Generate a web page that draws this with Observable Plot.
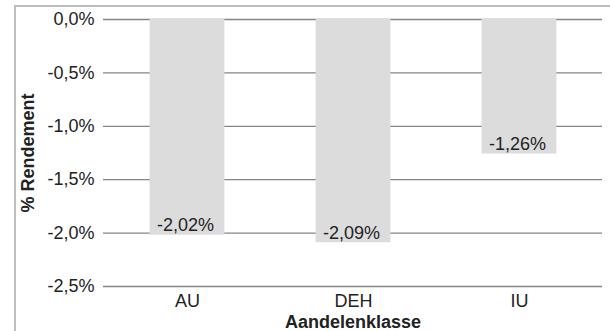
<!DOCTYPE html>
<html>
<head>
<meta charset="utf-8">
<script src="https://cdn.jsdelivr.net/npm/d3@7"></script>
<script src="https://cdn.jsdelivr.net/npm/@observablehq/plot@0.6"></script>
<style>
  html, body { margin: 0; padding: 0; background: #fff; }
  #wrap { position: relative; width: 610px; height: 331px; overflow: hidden; }
  #frame { position: absolute; left: 14px; top: 5px; width: 600px; height: 340px;
           border-left: 2px solid #bdbdbd; border-top: 2px solid #bdbdbd; box-sizing: border-box; }
  #chart { position: absolute; left: 0; top: 0; }
</style>
</head>
<body>
<div id="wrap"><div id="frame"></div><div id="chart"></div></div>
<script>
const categories = ["AU", "DEH", "IU"];
const values = [-2.02, -2.09, -1.26];
const yTicks = [0, -0.5, -1.0, -1.5, -2.0, -2.5];
const xTitle = "Aandelenklasse";
const yTitle = "% Rendement";

const data = categories.map((c, i) => ({cat: c, val: values[i]}));
const fmt = d => (Math.abs(d) < 1e-9 ? 0 : d).toFixed(1).replace(".", ",") + "%";
const fmt2 = d => d.toFixed(2).replace(".", ",") + "%";
const font = "'Liberation Sans', Arial, Helvetica, sans-serif";

const plot = Plot.plot({
  width: 610,
  height: 331,
  marginLeft: 103,
  marginRight: 8,
  marginTop: 19,
  marginBottom: 45,
  style: {fontFamily: font, fontSize: "18px", color: "#222", background: "transparent", overflow: "visible"},
  x: {domain: categories, padding: 0, label: null},
  y: {domain: [-2.5, 0], label: null},
  marks: [
    Plot.ruleY(yTicks, {stroke: "#858585", strokeWidth: 1.3}),
    Plot.barY(data, {x: "cat", y: "val", fill: "#dcdcdc", insetLeft: 45.6, insetRight: 45.6}),
    Plot.text(data, {x: "cat", y: "val", text: d => fmt2(d.val), lineAnchor: "bottom", dy: -4, dx: -2, fill: "#222", fontSize: 18}),
    Plot.axisY(yTicks, {tickSize: 0, tickPadding: 9, tickFormat: fmt, label: null, fontSize: 18, fill: "#222"}),
    Plot.axisX({tickSize: 0, tickPadding: 8, label: null, fontSize: 18, fill: "#222"}),
    Plot.text([xTitle], {frameAnchor: "bottom", text: d => d, textAnchor: "middle", lineAnchor: "bottom", dy: 41, fontWeight: "bold", fontSize: 18, fill: "#222"}),
    Plot.text([yTitle], {frameAnchor: "left", text: d => d, rotate: -90, textAnchor: "middle", lineAnchor: "middle", dx: -75, fontWeight: "bold", fontSize: 18, fill: "#222"})
  ]
});
document.getElementById("chart").appendChild(plot);
</script>
</body>
</html>
